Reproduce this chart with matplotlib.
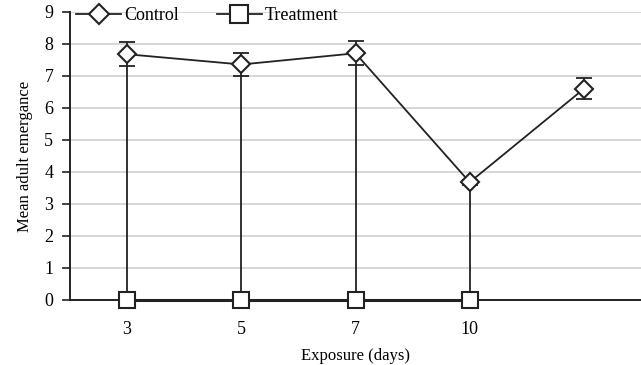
import matplotlib
matplotlib.use("Agg")
import matplotlib.pyplot as plt
from matplotlib.lines import Line2D
import numpy as np

categories = ["3", "5", "7", "10", ""]
control = [7.68, 7.36, 7.71, 3.68, 6.6]
control_err = [0.37, 0.37, 0.37, 0.08, 0.33]
treatment = [0, 0, 0, 0, np.nan]
treatment_err_up = [7.31, 6.99, 7.34, 3.6, np.nan]

plt.rcParams['font.family'] = ['Liberation Serif', 'DejaVu Serif']
plt.rcParams['font.size'] = 10

fig = plt.figure(figsize=(6.41, 3.65), dpi=100)
ax = fig.add_axes([70/641, 1 - 300/365, 571/641, 288/365])

x = np.arange(len(categories)) + 0.5
col = '#222222'

ax.errorbar(x, treatment, yerr=[np.zeros(len(x)), treatment_err_up], fmt='none',
            ecolor=col, elinewidth=1.3, capsize=0, zorder=2)
ax.plot(x, treatment, color=col, lw=2.2, marker='s', ms=12, mfc='white', mec=col,
        mew=1.5, label='Treatment', zorder=6, clip_on=False)
ax.errorbar(x, control, yerr=control_err, fmt='none', ecolor=col, elinewidth=1.3,
            capsize=6, capthick=1.3, zorder=3)
ax.plot(x, control, color=col, lw=1.3, marker='D', ms=9, mfc='white', mec=col,
        mew=1.5, label='Control', zorder=5)

ax.set_xlim(0, len(categories))
ax.set_ylim(0, 9)
ax.set_yticks(range(0, 10))
ax.set_xticks(x)
ax.set_xticklabels(categories)
ax.tick_params(axis='x', length=0, pad=15, labelsize=13)
ax.tick_params(axis='y', length=6, width=1.2, direction='out', labelsize=13, color=col, pad=6)
ax.yaxis.grid(True, color='#d4d4d4', lw=1.3)
ax.set_axisbelow(True)
for s in ['top', 'right']:
    ax.spines[s].set_visible(False)
ax.spines['left'].set_linewidth(1.4)
ax.spines['left'].set_color(col)
ax.spines['bottom'].set_linewidth(1.4)
ax.spines['bottom'].set_color(col)

ax.set_xlabel('Exposure (days)', fontsize=12, labelpad=7)
ax.set_ylabel('Mean adult emergance', fontsize=12, labelpad=8)

handles = [
    Line2D([], [], color=col, lw=1.3, marker='D', ms=10, mfc='white', mec=col, mew=1.5),
    Line2D([], [], color=col, lw=1.3, marker='s', ms=13, mfc='white', mec=col, mew=1.5),
]
leg = ax.legend(handles, ['Control', 'Treatment'], loc='upper left', ncol=2, frameon=False,
                bbox_to_anchor=(6/571, 1.016), borderaxespad=0, borderpad=0,
                handlelength=2.5, columnspacing=2.1, handletextpad=0.15, fontsize=13)

fig.savefig('out.png', dpi=100)
